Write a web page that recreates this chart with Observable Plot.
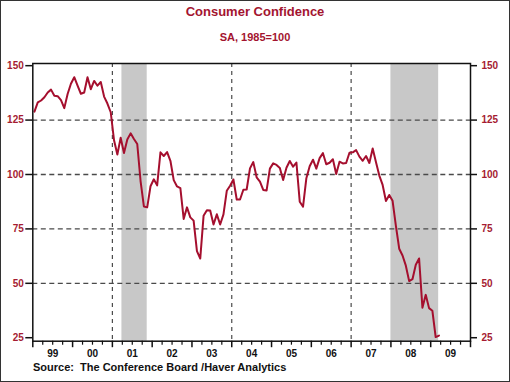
<!DOCTYPE html>
<html>
<head>
<meta charset="utf-8">
<script src="https://cdn.jsdelivr.net/npm/d3@7"></script>
<script src="https://cdn.jsdelivr.net/npm/@observablehq/plot@0.6"></script>
<style>
  html, body { margin: 0; padding: 0; background: #fff; }
  #wrap { position: relative; width: 510px; height: 382px; overflow: hidden; font-family: "Liberation Sans", Arial, sans-serif; }
  #wrap svg { position: absolute; left: 0; top: 0; }
  .t { position: absolute; left: 0; width: 510px; text-align: center; color: #a3142f; font-weight: bold; white-space: nowrap; }
  #title { top: 3px; font-size: 13px; line-height: 17px; }
  #subtitle { top: 30px; font-size: 11px; line-height: 14px; }
  #source { position: absolute; left: 33px; top: 360px; font-size: 11px; line-height: 14px; font-weight: bold; color: #111; white-space: nowrap; }
  #border { position: absolute; left: 0; top: 0; width: 508px; height: 380px; border: 1px solid #333; pointer-events: none; }
</style>
</head>
<body>
<div id="wrap">
  <div id="chart"></div>
  <div id="title" class="t">Consumer Confidence</div>
  <div id="subtitle" class="t">SA, 1985=100</div>
  <div id="source">Source:&nbsp;&nbsp;The Conference Board /Haver Analytics</div>
  <div id="border"></div>
</div>
<script>
const startYear = 1999; // first observation: January 1999, monthly
const values = [
  128.9, 133.1, 134.0, 135.5, 137.7, 139.0, 136.2, 136.0, 134.2, 130.5, 137.0, 141.7,
  144.7, 140.8, 137.1, 137.7, 144.7, 139.2, 143.0, 140.8, 142.5, 135.8, 132.6, 128.6,
  115.7, 109.2, 116.9, 109.9, 116.1, 118.9, 116.3, 114.0, 97.0, 85.3, 84.9, 94.6,
  97.8, 95.0, 110.2, 108.5, 110.3, 106.3, 97.4, 94.5, 93.7, 79.6, 84.9, 80.3,
  78.8, 64.8, 61.4, 81.0, 83.6, 83.5, 77.0, 81.7, 77.0, 81.7, 92.5, 94.8,
  97.7, 88.5, 88.5, 93.0, 93.1, 102.8, 105.7, 98.7, 96.7, 92.9, 92.6, 102.7,
  105.1, 104.4, 103.0, 97.5, 103.1, 106.2, 103.6, 105.5, 87.5, 85.2, 98.3, 103.8,
  106.8, 102.7, 107.5, 109.8, 104.7, 105.4, 107.0, 100.2, 105.9, 105.1, 105.3, 110.0,
  110.2, 111.2, 108.2, 106.3, 108.5, 105.3, 111.9, 105.6, 99.5, 95.2, 87.8, 90.6,
  87.9, 76.4, 65.9, 62.8, 58.1, 51.0, 51.9, 58.5, 61.4, 38.8, 44.7, 38.6,
  37.4, 25.3, 26.0
];
const recessionStart = [2001.24, 2008.0];
const recessionEnd = [2001.875, 2009.2];
const yTicks = [25, 50, 75, 100, 125, 150];
const yGrid = [50, 75, 100, 125];
const xGrid = [2001, 2004, 2007];
const yearLabels = ["99", "00", "01", "02", "03", "04", "05", "06", "07", "08", "09"];

const data = values.map((v, i) => ({ t: startYear + (i + 0.5) / 12, v }));
const recessions = recessionStart.map((s, i) => ({ s, e: recessionEnd[i] }));
const yearTicks = d3.range(startYear, startYear + yearLabels.length + 1);
const quarterTicks = d3.range(startYear * 4, (startYear + yearLabels.length) * 4).map(q => q / 4).filter(q => q % 1 !== 0);
const midYears = yearLabels.map((_, i) => startYear + i + 0.5);

const red = "#a51c32";
const chart = Plot.plot({
  width: 510,
  height: 382,
  marginTop: 63,
  marginBottom: 41.3,
  marginLeft: 32.3,
  marginRight: 40,
  style: { fontFamily: "Liberation Sans, Arial, sans-serif", fontSize: "10px", fontWeight: "bold", background: "transparent" },
  x: { domain: [1999, 2010] },
  y: { domain: [23.4, 151] },
  marks: [
    Plot.rect(recessions, { x1: "s", x2: "e", fill: "#c8c8c8" }),
    Plot.ruleY(yGrid, { stroke: "#4a4a4a", strokeWidth: 1.3, strokeDasharray: "5,3.5" }),
    Plot.ruleX(xGrid, { stroke: "#4a4a4a", strokeWidth: 1.2, strokeDasharray: "4,4" }),
    Plot.line(data, { x: "t", y: "v", stroke: "#a50f2e", strokeWidth: 2 }),
    Plot.frame({ stroke: "#111", strokeWidth: 1.5 }),
    Plot.axisY({ anchor: "left", ticks: yTicks, tickSize: 7, tickPadding: 2, stroke: "#111", strokeWidth: 1.5, fill: red, label: null }),
    Plot.axisY({ anchor: "right", ticks: yTicks, tickSize: 6, tickPadding: 5, stroke: "#111", strokeWidth: 1.5, fill: red, label: null }),
    Plot.axisX({ anchor: "bottom", ticks: yearTicks, tickSize: 6.5, tickFormat: () => "", stroke: "#111", strokeWidth: 1.5, label: null }),
    Plot.axisX({ anchor: "bottom", ticks: quarterTicks, tickSize: 4, tickFormat: () => "", stroke: "#111", strokeWidth: 1.2, label: null }),
    Plot.axisX({ anchor: "bottom", ticks: midYears, tickSize: 0, tickPadding: 9, tickFormat: (d) => yearLabels[Math.floor(d) - startYear], fill: "#111", label: null })
  ]
});
document.getElementById("chart").appendChild(chart);
</script>
</body>
</html>
